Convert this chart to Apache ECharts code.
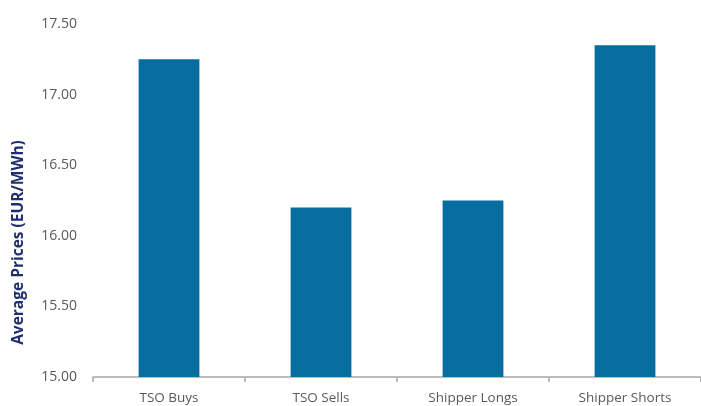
<!DOCTYPE html>
<html>
<head>
<meta charset="utf-8">
<script src="https://cdn.jsdelivr.net/npm/echarts@6/dist/echarts.min.js"></script>
<style>html,body{margin:0;padding:0;background:#fff;}#c{width:701px;height:406px;}</style>
</head>
<body>
<div id="c"></div>
<script>
const categories = ['TSO Buys', 'TSO Sells', 'Shipper Longs', 'Shipper Shorts'];
const prices = [17.25, 16.20, 16.25, 17.35];
const yMin = 15.0, yMax = 17.5, yStep = 0.5;

const chart = echarts.init(document.getElementById('c'), null, {renderer: 'canvas'});
chart.setOption({
  animation: false,
  backgroundColor: '#ffffff',
  grid: {left: 93, width: 614, top: 24, height: 353, containLabel: false},
  xAxis: {
    type: 'category',
    data: categories,
    axisLine: {show: true, lineStyle: {color: '#a6a6a6', width: 1.5}},
    axisTick: {show: true, length: 5, lineStyle: {color: '#a6a6a6', width: 1.5}},
    axisLabel: {color: '#595959', fontFamily: 'Open Sans', fontSize: 13.5, margin: 14}
  },
  yAxis: {
    type: 'value',
    min: yMin, max: yMax, interval: yStep,
    name: 'Average Prices (EUR/MWh)',
    nameLocation: 'middle',
    nameGap: 66,
    nameTextStyle: {color: '#1f2f6e', fontFamily: 'Open Sans', fontWeight: 'bold', fontSize: 15.5, padding: [0, 84, 0, 0]},
    axisLine: {show: false},
    axisTick: {show: false},
    splitLine: {show: false},
    axisLabel: {color: '#595959', fontFamily: 'Open Sans', fontSize: 14, margin: 16,
      formatter: v => v.toFixed(2)}
  },
  series: [{
    type: 'bar',
    data: prices,
    barWidth: '40%',
    itemStyle: {color: '#066da0'}
  }]
});
</script>
</body>
</html>
